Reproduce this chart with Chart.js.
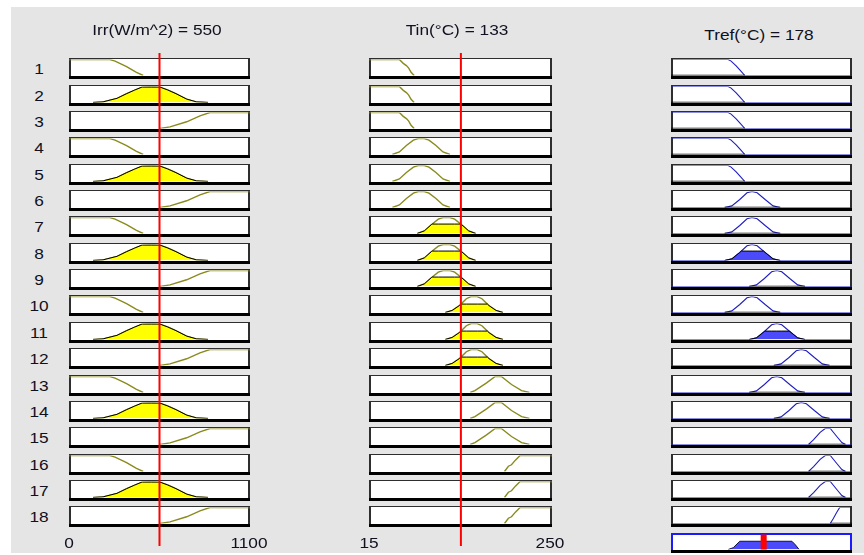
<!DOCTYPE html>
<html>
<head>
<meta charset="utf-8">
<script src="https://cdn.jsdelivr.net/npm/chart.js@4.4.1/dist/chart.umd.min.js"></script>
<style>
  html, body { margin: 0; padding: 0; background: #ffffff; width: 864px; height: 555px; overflow: hidden; }
  #fig { position: absolute; left: 11px; top: 7px; width: 853px; height: 546px; background: #e5e5e5; z-index: 0; }
  canvas { position: absolute; display: block; }
  .txt {
    position: absolute; z-index: 5; white-space: nowrap;
    font-family: "Liberation Sans", Arial, sans-serif; font-size: 14.5px; color: #101020;
    transform: translate(-50%, -50%) scaleX(1.19);
  }
</style>
</head>
<body>
<div id="fig"></div>
<script>
// ---------------- data ----------------
const irrRange = [0, 1100];
const tinRange = [15, 250];
const trefRange = [50, 300];
const irrInput = 550;
const tinInput = 133;
const trefOutput = 178;
const irrTickLabels = ['0', '1100'];
const tinTickLabels = ['15', '250'];
const ruleLabels = ['1','2','3','4','5','6','7','8','9','10','11','12','13','14','15','16','17','18'];

// membership functions, as [value, degree] points
const irrLow  = [[0,1],[249,1],[280,0.9],[350,0.56],[410,0.2],[451,0]];
const irrMid  = [[146,0],[207,0.04],[292,0.26],[350,0.55],[400,0.78],[443,0.96],[500,1],[553,0.96],[600,0.78],[650,0.55],[715,0.21],[774,0.04],[845,0]];
const irrHigh = [[553,0],[614,0.1],[715,0.42],[796,0.79],[856,1],[1100,1]];

const tinLow      = [[15,1],[54,1],[59,0.76],[63,0.62],[66,0.46],[69,0.2],[73,0]];
const tinMidLow   = [[45,0],[54,0.16],[63,0.56],[72,0.9],[78,1],[86,1],[92,0.9],[101,0.56],[110,0.16],[119,0]];
const tinMid      = [[77,0],[86,0.16],[95,0.55],[104,0.9],[110,1],[119,1],[125,0.9],[134,0.55],[143,0.16],[152,0]];
const tinMidHigh  = [[113,0],[122,0.13],[131,0.43],[140,0.86],[146,1],[154,1],[160,0.86],[169,0.43],[178,0.13],[187,0]];
const tinHigh     = [[145,0],[151,0.12],[166,0.6],[177,1],[185,1],[198,0.5],[211,0.12],[221,0]];
const tinVeryHigh = [[189,0],[194,0.33],[198,0.42],[203,0.71],[209,1],[250,1]];

const trefVeryLow   = [[50,1],[129,1],[133,0.9],[140,0.6],[145,0.35],[152,0]];
const trefLow       = [[124,0],[134,0.1],[145,0.5],[155,0.92],[162,1],[169,0.92],[180,0.5],[191,0.1],[201,0]];
const trefMid       = [[158,0],[168,0.1],[179,0.5],[189,0.92],[196,1],[203,0.92],[214,0.5],[225,0.1],[235,0]];
const trefHigh      = [[192,0],[202,0.1],[213,0.5],[223,0.92],[230,1],[237,0.92],[248,0.5],[259,0.1],[269,0]];
const trefVeryHigh  = [[240,0],[247,0.3],[256,0.76],[263,1],[270,1],[279,0.5],[286,0.12],[291,0]];
const trefExtraHigh = [[270,0],[274,0.3],[279,0.7],[283,1],[300,1]];
const trefAggregate = [[129,0],[136,0.12],[145,0.55],[217,0.55],[222,0.3],[227,0]];

// rule base: membership function index used by each rule
const ruleIrr  = [0,1,2,0,1,2,0,1,2,0,1,2,0,1,2,0,1,2];
const ruleTin  = [0,0,0,1,1,1,2,2,2,3,3,3,4,4,4,5,5,5];
const ruleTref = [0,0,0,0,0,1,1,1,2,1,2,3,2,3,4,4,4,5];

// ---------------- helpers ----------------
const OLIVE = 'rgb(138,138,30)';
const YELLOW = '#ffff00';
const BLUE_LINE = 'rgb(30,30,190)';
const BLUE_FILL = 'rgb(75,75,250)';
const RED = '#ff0000';

function degree(mf, v) {
  if (v <= mf[0][0]) return mf[0][1];
  for (let i = 1; i < mf.length; i++) {
    if (v <= mf[i][0]) {
      const [x0, y0] = mf[i - 1], [x1, y1] = mf[i];
      return y0 + (y1 - y0) * (v - x0) / (x1 - x0);
    }
  }
  return mf[mf.length - 1][1];
}

// membership function cut at level d (polyline of min(mf, d))
function clipMF(mf, d) {
  const out = [];
  for (let i = 0; i < mf.length; i++) {
    const [x, y] = mf[i];
    if (i > 0) {
      const [x0, y0] = mf[i - 1];
      if ((y0 - d) * (y - d) < 0) {
        const t = (d - y0) / (y - y0);
        out.push({ x: x0 + t * (x - x0), y: d });
      }
    }
    out.push({ x: x, y: Math.min(y, d) });
  }
  return out;
}

const pts = mf => mf.map(([x, y]) => ({ x, y }));

function fullRange(mf, range) {
  const p = pts(mf);
  if (p[0].x > range[0]) p.unshift({ x: range[0], y: p[0].y });
  if (p[p.length - 1].x < range[1]) p.push({ x: range[1], y: p[p.length - 1].y });
  return p;
}

// white box with dark sides and a heavy black base line
const framePlugin = {
  id: 'frame',
  beforeDatasetsDraw(chart, args, o) {
    const ctx = chart.ctx, w = chart.width, h = chart.height;
    ctx.save();
    ctx.fillStyle = o.edge;
    ctx.fillRect(0, 0, w, h);
    ctx.fillStyle = '#ffffff';
    ctx.fillRect(o.side, o.top, w - 2 * o.side, h - o.top - o.bottom);
    ctx.fillStyle = '#000000';
    ctx.fillRect(0, h - o.bottom, w, o.bottom);
    ctx.restore();
  }
};

function addCanvas(left, top, w, h, z) {
  const c = document.createElement('canvas');
  c.width = w; c.height = h;
  c.style.left = left + 'px'; c.style.top = top + 'px';
  c.style.width = w + 'px'; c.style.height = h + 'px';
  c.style.zIndex = z;
  document.body.appendChild(c);
  return c;
}

function options(range, pad, frame) {
  return {
    responsive: false, animation: false, devicePixelRatio: 1, events: [],
    layout: { padding: pad },
    plugins: { legend: { display: false }, tooltip: { enabled: false }, frame: frame || false },
    scales: {
      x: { type: 'linear', min: range[0], max: range[1], display: false },
      y: { type: 'linear', min: 0, max: 1, display: false }
    },
    elements: { point: { radius: 0 }, line: { tension: 0 } }
  };
}

function addText(str, x, y) {
  const d = document.createElement('div');
  d.className = 'txt';
  d.textContent = str;
  d.style.left = x + 'px'; d.style.top = y + 'px';
  document.body.appendChild(d);
}

// ---------------- layout ----------------
const ROW0 = 58.3, PITCH = 26.35, BOX_H = 21;
const rowTop = r => Math.round(ROW0 + r * PITCH);
const cols = [
  { left: 69,  width: 181 },
  { left: 369, width: 183 },
  { left: 671, width: 181 }
];
const cellFrame = { edge: '#2e2e2e', side: 2, top: 1, bottom: 3 };
const cellPad = { top: 1.5, bottom: 3.5, left: 0, right: 0 };

const irrMFs = [irrLow, irrMid, irrHigh];
const tinMFs = [tinLow, tinMidLow, tinMid, tinMidHigh, tinHigh, tinVeryHigh];
const trefMFs = [trefVeryLow, trefLow, trefMid, trefHigh, trefVeryHigh, trefExtraHigh];

const inputs = [
  { col: cols[0], range: irrRange, value: irrInput, mfs: irrMFs, rule: ruleIrr },
  { col: cols[1], range: tinRange, value: tinInput, mfs: tinMFs, rule: ruleTin }
];

// firing strength of each rule (AND = min)
const firing = ruleIrr.map((_, r) =>
  Math.min(degree(irrMFs[ruleIrr[r]], irrInput), degree(tinMFs[ruleTin[r]], tinInput)));

// input columns
inputs.forEach(inp => {
  inp.rule.forEach((mfIndex, r) => {
    const mf = inp.mfs[mfIndex];
    const d = degree(mf, inp.value);
    const datasets = [];
    if (d > 0) {
      datasets.push({ data: clipMF(mf, d), borderColor: '#000000', borderWidth: 1,
                      backgroundColor: YELLOW, fill: 'origin', order: 0 });
    }
    datasets.push({ data: pts(mf), borderColor: OLIVE, borderWidth: 1.4, fill: false, order: 1 });
    const c = addCanvas(inp.col.left, rowTop(r), inp.col.width, BOX_H, 1);
    new Chart(c, { type: 'line', data: { datasets }, options: options(inp.range, cellPad, cellFrame),
                   plugins: [framePlugin] });
  });
});

// output column
ruleTref.forEach((mfIndex, r) => {
  const mf = trefMFs[mfIndex];
  const w = firing[r];
  const datasets = [];
  if (w > 0) {
    datasets.push({ data: clipMF(mf, w), borderColor: '#000000', borderWidth: 1,
                    backgroundColor: BLUE_FILL, fill: 'origin', order: 0 });
  } else {
    datasets.push({ data: clipMF(mf, 0), borderColor: '#000000', borderWidth: 1.5, fill: false, order: 0 });
  }
  datasets.push({ data: fullRange(mf, trefRange), borderColor: BLUE_LINE, borderWidth: 1.1, fill: false, order: 1 });
  const c = addCanvas(cols[2].left, rowTop(r), cols[2].width, BOX_H, 1);
  new Chart(c, { type: 'line', data: { datasets }, options: options(trefRange, cellPad, cellFrame),
                 plugins: [framePlugin] });
});

// aggregated output with its defuzzified value
{
  const c = addCanvas(cols[2].left, rowTop(18), cols[2].width, 20, 1);
  new Chart(c, {
    type: 'line',
    data: { datasets: [
      { data: [{ x: trefOutput, y: -0.2 }, { x: trefOutput, y: 1.2 }], borderColor: RED, borderWidth: 6, fill: false, order: 0 },
      { data: pts(trefAggregate), borderColor: '#101040', borderWidth: 1, backgroundColor: BLUE_FILL, fill: 'origin', order: 1 }
    ] },
    options: options(trefRange, { top: 1.5, bottom: 3.5, left: 0, right: 0 },
                     { edge: '#1a1aff', side: 2, top: 2, bottom: 3 }),
    plugins: [framePlugin]
  });
}

// crisp input markers across the input columns
inputs.forEach(inp => {
  const top = 53, h = 493;
  const c = addCanvas(inp.col.left - 3, top, inp.col.width + 6, h, 3);
  new Chart(c, {
    type: 'line',
    data: { datasets: [{ data: [{ x: inp.value, y: 0 }, { x: inp.value, y: 1 }], borderColor: RED, borderWidth: 2, fill: false }] },
    options: options(inp.range, { top: 0, bottom: 0, left: 3, right: 3 })
  });
});

// ---------------- text ----------------
addText('Irr(W/m^2) = ' + irrInput, 157, 29.5);
addText('Tin(°C) = ' + tinInput, 456.5, 29.5);
addText('Tref(°C) = ' + trefOutput, 759, 34.5);
ruleLabels.forEach((s, r) => addText(s, 38.5, rowTop(r) + 11));
addText(irrTickLabels[0], cols[0].left - 0.5, 542.5);
addText(irrTickLabels[1], cols[0].left + cols[0].width - 1.5, 542.5);
addText(tinTickLabels[0], cols[1].left, 542.5);
addText(tinTickLabels[1], cols[1].left + cols[1].width - 2.5, 542.5);
</script>
</body>
</html>
